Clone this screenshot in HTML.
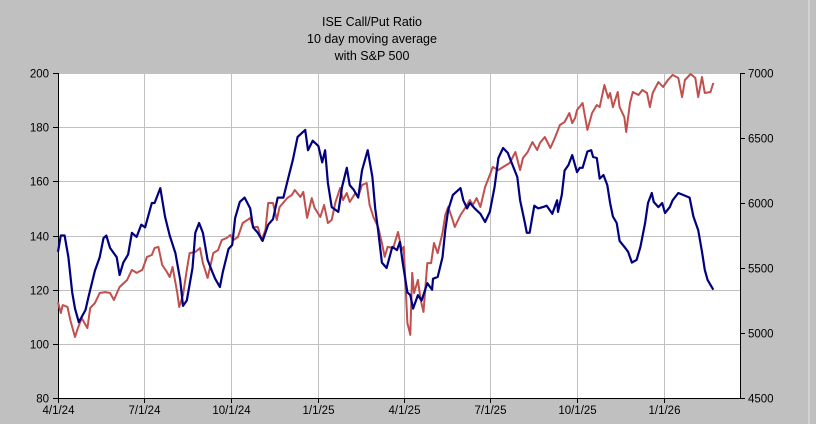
<!DOCTYPE html>
<html><head><meta charset="utf-8"><style>
html,body{margin:0;padding:0;background:#c0c0c0;}
svg{display:block;font-family:"Liberation Sans",Arial,sans-serif;}
</style></head><body>
<svg id="chart" width="816" height="424" viewBox="0 0 816 424" xmlns="http://www.w3.org/2000/svg">
<rect x="0" y="0" width="816" height="424" fill="#c0c0c0"/>
<line x1="809" y1="0" x2="809" y2="424" stroke="#e4e4e4" stroke-width="1"/>
<g font-size="12.5" text-anchor="middle" fill="#000">
<text x="372" y="26">ISE Call/Put Ratio</text>
<text x="372" y="43">10 day moving average</text>
<text x="372" y="60">with S&amp;P 500</text>
</g>
<rect x="58" y="73" width="682" height="325" fill="#fff"/>
<g id="grid"></g>
<g id="axes"></g>
<g id="series"></g>
</svg>
<script>
// ---- data ----
const xTickLabels = ["4/1/24","7/1/24","10/1/24","1/1/25","4/1/25","7/1/25","10/1/25","1/1/26"];
const xTickDays = [0,91,183,275,365,456,548,640];
const leftTicks = [80,100,120,140,160,180,200];
const rightTicks = [4500,5000,5500,6000,6500,7000];
const callPutDays = [0,3,7,11,15,18,22,29,32,39,44,48,51,55,62,65,69,74,78,83,88,92,99,102,108,113,118,124,129,132,136,142,145,149,153,158,163,166,171,174,180,184,187,192,197,203,206,211,216,222,227,232,238,243,248,253,261,264,269,275,279,282,285,289,296,300,305,308,312,317,321,327,332,335,338,342,347,353,358,361,364,369,372,375,380,384,390,395,396,401,406,409,412,417,425,428,432,435,440,446,451,456,461,465,470,475,480,485,488,493,495,498,503,507,512,516,522,527,528,532,535,539,543,548,551,554,559,563,565,569,572,576,580,583,586,590,593,599,602,606,611,615,620,623,627,629,634,638,641,646,649,655,660,667,671,676,680,683,686,692];
const callPutValues = [134,140,140,132,119,113,108,112.5,117,127,132,139,140,135.4,132,125.4,130,133,141,139.5,144,143,152,152,157.5,147,140,133.5,123.6,114,116,128,141,144.6,141,131,126.5,124,121,126.5,135,136.5,146.4,152.4,154,150,143,141,138,144,146,154,154,161,168,176.4,179,171.5,175,173,167,171.5,159.4,150.5,148.7,158,165,158.6,157,154,164,171.5,161.6,150,142,130,128,135.8,134.6,137.6,130,119,118,113,118,116,122.4,120,124,124.7,132,142,149.4,155,157.5,153,150,152,150,148,145,148.7,158,168.6,172.3,170.5,166,161.6,153,144.6,141,141,151,150,150.5,151,148,153,148.7,155,164,166,169.7,163.4,165,165,171,171.5,169,168.6,161,162.3,158.6,152,147,144.6,138,135.4,134,130,131,135.8,144.6,152,155.7,152.4,150.5,152,148.3,150.5,153,155.7,155,154,147,142,134,127.3,123.6,120];
const spxDays = [0,3,5,10,13,18,21,25,31,34,39,44,50,55,59,65,73,78,83,89,94,99,102,106,110,115,118,121,126,128,132,136,139,145,150,153,158,164,169,173,178,182,185,190,195,200,203,206,211,215,219,222,227,231,234,242,247,250,256,259,263,268,271,277,281,285,289,293,298,301,305,308,314,317,321,326,329,333,338,342,345,348,354,359,363,365,369,372,374,376,380,383,386,390,394,397,401,406,409,412,416,419,425,430,435,438,442,446,451,456,459,465,470,477,483,488,491,496,501,506,509,514,520,525,530,535,540,543,546,548,554,559,564,569,572,577,581,583,586,591,593,598,600,604,607,613,617,622,625,628,634,639,644,649,655,659,662,668,673,676,680,683,689,692];
const spxValues = [5238,5154,5215,5200,5100,4969,5038,5115,5038,5192,5230,5308,5315,5308,5254,5354,5408,5485,5462,5485,5585,5600,5654,5662,5523,5469,5431,5508,5308,5200,5292,5485,5615,5623,5654,5538,5423,5615,5638,5715,5731,5754,5715,5738,5846,5869,5885,5815,5815,5715,5792,6000,6000,5869,5969,6038,6062,6100,6046,6085,5885,6038,5962,5892,5985,5846,5869,6008,6115,6023,6077,6008,6077,6046,6138,6154,5985,5892,5815,5692,5585,5662,5654,5777,5638,5662,5077,4985,5462,5308,5408,5254,5162,5538,5538,5692,5615,5769,5908,5969,5885,5815,5908,5962,6023,5985,6038,5969,6123,6215,6277,6254,6277,6308,6392,6254,6346,6392,6469,6408,6462,6508,6423,6508,6600,6623,6692,6615,6654,6715,6769,6562,6692,6754,6738,6908,6808,6846,6738,6854,6738,6662,6546,6769,6854,6831,6869,6846,6738,6846,6931,6892,6946,6985,6962,6815,6946,6992,6962,6815,6969,6846,6854,6923];

// ---- scales ----
const X0=58, X1=740, Y0=73, Y1=398;
const PX_PER_DAY = 0.947;
function xS(d){return X0 + d*PX_PER_DAY;}
function yL(v){return Y1 - (v-80)/(200-80)*(Y1-Y0);}
function yR(v){return Y1 - (v-4500)/(7000-4500)*(Y1-Y0);}
const NS="http://www.w3.org/2000/svg";
function mk(tag, attrs, parent){const e=document.createElementNS(NS,tag);for(const k in attrs)e.setAttribute(k,attrs[k]);parent.appendChild(e);return e;}
const grid=document.getElementById('grid'), axes=document.getElementById('axes'), series=document.getElementById('series');

leftTicks.forEach(v=>{
  const y=Math.round(yL(v))+0.5;
  const g=mk('line',{x1:X0,x2:X1,y1:y,y2:y,stroke:'#c0c0c0','stroke-width':1},grid);
  
  
  const t=mk('line',{x1:X0-5,x2:X0,y1:y,y2:y,stroke:'#000','stroke-width':1},axes);
  
  
  const l=mk('text',{x:X0-9,y:y+4,'font-size':11.5,'text-anchor':'end',fill:'#000'},axes);
  l.textContent=v;
  
  
});
rightTicks.forEach(v=>{
  const y=Math.round(yR(v))+0.5;
  const t=mk('line',{x1:X1,x2:X1+5,y1:y,y2:y,stroke:'#000','stroke-width':1},axes);
  
  
  const l=mk('text',{x:X1+8,y:y+4,'font-size':11.5,'text-anchor':'start',fill:'#000'},axes);
  l.textContent=v;
  
  
});
xTickDays.forEach((d,i)=>{
  const x=Math.round(xS(d))+0.5;
  if(i>0){
    const g=mk('line',{x1:x,x2:x,y1:Y0,y2:Y1,stroke:'#c0c0c0','stroke-width':1},grid);
    
    
  }
  const t=mk('line',{x1:x,x2:x,y1:Y1,y2:Y1+5,stroke:'#000','stroke-width':1},axes);
  
  
  const l=mk('text',{x:x,y:Y1+16,'font-size':11.5,'text-anchor':'middle',fill:'#000'},axes);
  l.textContent=xTickLabels[i];
  
  
});
const la=mk('line',{x1:X0+0.5,x2:X0+0.5,y1:Y0,y2:Y1,stroke:'#000','stroke-width':1},axes);


const ra=mk('line',{x1:X1+0.5,x2:X1+0.5,y1:Y0,y2:Y1,stroke:'#000','stroke-width':1},axes);


const ba=mk('line',{x1:X0,x2:X1,y1:Y1+0.5,y2:Y1+0.5,stroke:'#000','stroke-width':1},axes);



const spxPts=spxDays.map((d,i)=>xS(d).toFixed(1)+','+yR(spxValues[i]).toFixed(1)).join(' ');
const sp=mk('polyline',{points:spxPts,fill:'none',stroke:'#c0504d','stroke-width':2,'stroke-linejoin':'round'},series);


const cpPts=callPutDays.map((d,i)=>xS(d).toFixed(1)+','+yL(callPutValues[i]).toFixed(1)).join(' ');
const cp=mk('polyline',{points:cpPts,fill:'none',stroke:'#000080','stroke-width':2.2,'stroke-linejoin':'round'},series);


</script>
</body></html>
